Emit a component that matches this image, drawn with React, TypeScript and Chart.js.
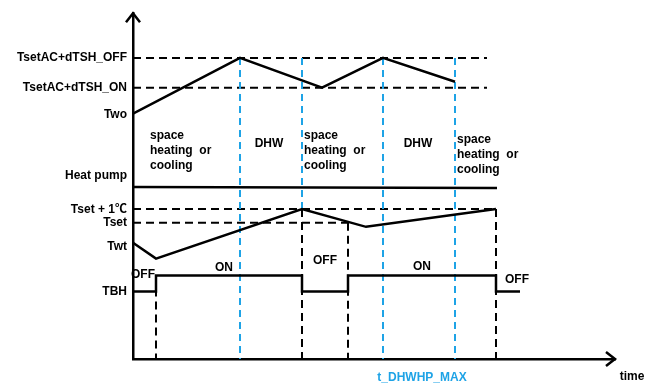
import { useEffect, useRef } from 'react';
import { Chart, registerables } from 'chart.js';

Chart.register(...registerables);

// ---- data (time units along x, signal level units along y) ----
const T_MAX = 482;
const LEVEL_MAX = 348;

const twoTime = [0, 107, 189, 250, 322];
const twoLevel = [247, 303, 273, 303, 279];

const heatPumpTime = [0, 364];
const heatPumpLevel = [173, 172];

const twtTime = [0, 23, 169, 233, 363];
const twtLevel = [117, 101, 151, 133, 151];

const tbhTime = [0, 23, 23, 169, 169, 215, 215, 363, 363, 387];
const tbhLevel = [68, 68, 84, 84, 68, 68, 84, 84, 68, 68];

const tshOffLevel = 303;
const tshOnLevel = 273;
const tshEnd = 354;
const tsetPlus1Level = 151;
const tsetPlus1End = 363;
const tsetLevel = 137;
const tsetEnd = 215;

// blue (mode switch) markers
const modeSwitchTime = [107, 169, 250, 322];
const modeSwitchBottom = [0, 151, 0, 0];
// black (TBH switch) markers
const tbhSwitchTime = [23, 169, 215, 363];
const tbhSwitchTop = [84, 151, 137, 151];

const yTickValues = [303, 273, 246, 184, 150, 137, 113, 68];
const yTickLabels = ['TsetAC+dTSH_OFF', 'TsetAC+dTSH_ON', 'Two', 'Heat pump', 'Tset + 1\u2103', 'Tset', 'Twt', 'TBH'];

const xTickValues = [289];
const xTickLabels = ['t_DHWHP_MAX'];
const xAxisTitle = 'time';
const xAxisTitleTime = 499;

const regionTexts = [
  ['space', 'heating  or', 'cooling'],
  ['DHW'],
  ['space', 'heating  or', 'cooling'],
  ['DHW'],
  ['space', 'heating  or', 'cooling'],
];
const regionTime = [17, 136, 171, 285, 324];
const regionLevel = [225, 217, 225, 217, 221];

const stateTexts = ['OFF', 'ON', 'OFF', 'ON', 'OFF'];
const stateTime = [10, 91, 192, 289, 384];
const stateLevel = [85, 92, 99, 93, 80];

const BLUE = '#1ea3e6';
const FONT = '"Liberation Sans", Arial, "Noto Sans CJK SC", sans-serif';

const pts = (xs: number[], ys: number[]) => xs.map((x, i) => ({ x, y: ys[i] }));

export default function App() {
  const ref = useRef<HTMLCanvasElement | null>(null);

  useEffect(() => {
    if (!ref.current) return;

    const solid = (data: any[]) => ({
      data,
      borderColor: '#000',
      borderWidth: 2.5,
      pointRadius: 0,
      tension: 0,
      fill: false,
    });
    const dashed = (data: any[], color: string) => ({
      data,
      borderColor: color,
      borderWidth: 2,
      borderDash: color === '#000' ? [8, 5] : [7, 5],
      pointRadius: 0,
      tension: 0,
      fill: false,
    });

    const datasets: any[] = [
      solid(pts(twoTime, twoLevel)),
      solid(pts(heatPumpTime, heatPumpLevel)),
      solid(pts(twtTime, twtLevel)),
      solid(pts(tbhTime, tbhLevel)),
      ...modeSwitchTime.map((t, i) =>
        dashed([{ x: t, y: tshOffLevel }, { x: t, y: modeSwitchBottom[i] }], BLUE)
      ),
      ...tbhSwitchTime.map((t, i) =>
        dashed([{ x: t, y: tbhSwitchTop[i] }, { x: t, y: 0 }], '#000')
      ),
      dashed([{ x: 0, y: tshOffLevel }, { x: tshEnd, y: tshOffLevel }], '#000'),
      dashed([{ x: 0, y: tshOnLevel }, { x: tshEnd, y: tshOnLevel }], '#000'),
      dashed([{ x: 0, y: tsetPlus1Level }, { x: tsetPlus1End, y: tsetPlus1Level }], '#000'),
      dashed([{ x: 0, y: tsetLevel }, { x: tsetEnd, y: tsetLevel }], '#000'),
    ];

    const annotate = {
      id: 'annotate',
      afterDraw(chart: any) {
        const { ctx, chartArea, scales } = chart;
        const xs = scales.x;
        const ys = scales.y;
        ctx.save();
        // arrows
        ctx.strokeStyle = '#000';
        ctx.lineWidth = 2.5;
        ctx.lineJoin = 'miter';
        ctx.beginPath();
        ctx.moveTo(chartArea.left - 7, chartArea.top + 9);
        ctx.lineTo(chartArea.left, chartArea.top);
        ctx.lineTo(chartArea.left + 7, chartArea.top + 9);
        ctx.stroke();
        ctx.beginPath();
        ctx.moveTo(chartArea.right - 9, chartArea.bottom - 7);
        ctx.lineTo(chartArea.right, chartArea.bottom);
        ctx.lineTo(chartArea.right - 9, chartArea.bottom + 7);
        ctx.stroke();

        ctx.fillStyle = '#000';
        ctx.font = 'bold 12px ' + FONT;
        ctx.textBaseline = 'middle';
        regionTexts.forEach((lines, i) => {
          const x = xs.getPixelForValue(regionTime[i]);
          const y0 = ys.getPixelForValue(regionLevel[i]);
          ctx.textAlign = lines.length > 1 ? 'left' : 'center';
          lines.forEach((line, j) => ctx.fillText(line, x, y0 + j * 15));
        });
        ctx.textAlign = 'center';
        stateTexts.forEach((s, i) => {
          ctx.fillText(s, xs.getPixelForValue(stateTime[i]), ys.getPixelForValue(stateLevel[i]));
        });
        ctx.fillText(xAxisTitle, xs.getPixelForValue(xAxisTitleTime), chartArea.bottom + 18);
        ctx.restore();
      },
    };

    const chart = new Chart(ref.current, {
      type: 'line',
      data: { datasets },
      plugins: [annotate],
      options: {
        animation: false,
        responsive: false,
        devicePixelRatio: 1,
        layout: { padding: { top: 11, right: 41, left: 0, bottom: 0 } },
        plugins: { legend: { display: false }, tooltip: { enabled: false } },
        scales: {
          x: {
            type: 'linear',
            min: 0,
            max: T_MAX,
            grid: { display: false, drawTicks: false },
            border: { display: true, color: '#000', width: 2.5 },
            afterBuildTicks: (s: any) => {
              s.ticks = xTickValues.map((v) => ({ value: v }));
            },
            afterFit: (s: any) => {
              s.height = 26;
            },
            ticks: {
              autoSkip: false,
              maxRotation: 0,
              padding: 11,
              color: BLUE,
              font: { family: FONT, size: 12, weight: 'bold' },
              callback: (_v: any, i: number) => xTickLabels[i],
            },
          },
          y: {
            type: 'linear',
            min: 0,
            max: LEVEL_MAX,
            grid: { display: false, drawTicks: false },
            border: { display: true, color: '#000', width: 2.5 },
            afterBuildTicks: (s: any) => {
              s.ticks = yTickValues.map((v) => ({ value: v }));
            },
            afterFit: (s: any) => {
              s.width = 133;
            },
            ticks: {
              autoSkip: false,
              padding: 6,
              color: '#000',
              font: { family: FONT, size: 12, weight: 'bold' },
              callback: (_v: any, i: number) => yTickLabels[i],
            },
          },
        },
      } as any,
    });
    return () => chart.destroy();
  }, []);

  return (
    <div style={{ position: 'absolute', left: 0, top: 0, width: 656, height: 385, background: '#fff' }}>
      <canvas ref={ref} width={656} height={385} />
    </div>
  );
}
